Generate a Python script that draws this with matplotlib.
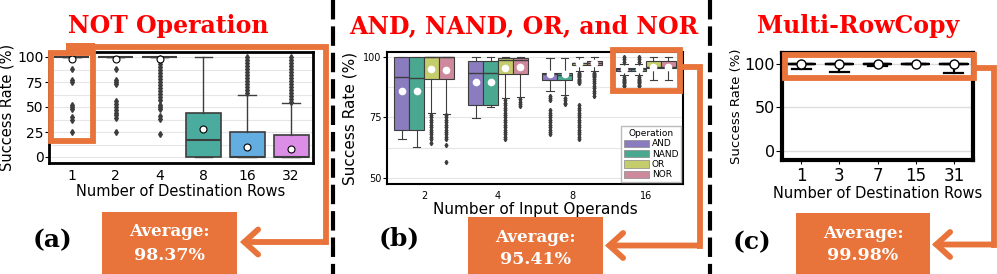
import numpy as np
import matplotlib.pyplot as plt
from matplotlib.patches import Rectangle, FancyArrowPatch, Patch

plt.rcParams['lines.scale_dashes'] = False

# ── data: (a) NOT operation ───────────────────────────────────────────────────
not_rows = ['1', '2', '4', '8', '16', '32']
not_q1 = [100, 100, 100, 0, 0, 0]
not_med = [100, 100, 100, 17, 0, 0]
not_q3 = [100, 100, 100, 44, 25, 22]
not_lo = [100, 100, 100, 0, 0, 0]
not_hi = [100, 100, 100, 100, 62, 54]
not_mean = [98.5, 98.4, 98.2, 28, 10, 8]
not_fliers = [
    [88, 77, 75, 52, 50, 48, 40, 37, 25],
    [88, 77, 75, 73, 56, 53, 50, 47, 44, 42, 39, 25],
    [99, 96, 93, 90, 87, 84, 81, 78, 75, 72, 69, 66, 63, 60, 57, 52, 50, 48, 41, 38, 23],
    [],
    [100, 97, 94, 91, 88, 85, 82, 79, 76, 73, 70, 67, 64],
    [100, 97, 94, 91, 88, 85, 82, 79, 76, 73, 70, 67, 64, 61, 58, 55],
]
not_colors = ['#8e7cc3', '#4aa58f', '#c5cb6e', '#4aab9f', '#64ade0', '#dc8ee6']

# ── data: (b) AND / NAND / OR / NOR  (rows = operation, cols = operands) ──────
operands = ['2', '4', '8', '16']
ops = ['AND', 'NAND', 'OR', 'NOR']
op_colors = ['#8b7cc0', '#4aa890', '#c4cc6c', '#cf899c']
logic_q1 = [[69.6, 80.0, 90.6, 94.3], [69.6, 80.0, 90.6, 94.3],
            [91.0, 93.0, 96.7, 95.5], [90.8, 93.0, 96.8, 95.5]]
logic_med = [[91.8, 93.4, 92.8, 94.8], [91.1, 93.4, 92.6, 94.8],
             [100, 98.5, 97.5, 96.0], [100, 98.5, 97.6, 96.0]]
logic_q3 = [[100, 98.2, 93.3, 95.3], [100, 98.2, 93.3, 95.3],
            [100, 99.5, 97.6, 98.1], [100, 99.5, 98.2, 98.2]]
logic_lo = [[66.0, 74.6, 85.9, 92.6], [62.9, 79.2, 84.2, 92.6],
            [76.9, 83.0, 94.2, 90.4], [76.6, 83.3, 94.2, 90.4]]
logic_hi = [[100, 100, 99.6, 97.0], [100, 100, 99.6, 97.0],
            [100, 100, 100, 100], [100, 100, 100, 100]]
logic_mean = [[86.1, 89.6, 92.8, 94.9], [85.7, 89.6, 92.8, 94.9],
              [95.0, 95.5, 97.3, 95.7], [94.5, 95.8, 97.3, 95.7]]
logic_fliers = [
    [[], [], [84, 83, 82, 78, 77, 76, 75, 74, 73, 72, 71, 70, 69, 68],
     [100, 99, 98, 91.5, 91, 90.5, 90, 89.5, 89, 88.5, 88]],
    [[], [], [83, 82, 81, 80.5],
     [100, 99, 98, 91.5, 91, 90.5, 90, 89.5, 89, 88.5, 88]],
    [[76, 75, 74, 73, 72, 71, 70, 69, 68, 67, 66, 64.5],
     [82, 81, 80, 79, 78, 77, 76, 75, 74, 73, 72, 71, 70, 69, 68, 67, 66],
     [93.5, 93, 92.5, 92, 91.5, 91, 90.5, 90, 89.5, 89, 80, 79, 78, 77, 76, 75,
      74, 73, 72, 71, 70, 69, 68, 67, 66],
     []],
    [[76, 75, 74, 73, 72, 71, 70, 69, 68, 67, 66, 63.5, 56.5],
     [82.5, 81.5, 80.5, 79.5],
     [93.5, 93, 92.5, 92, 91.5, 91, 90, 89, 88, 87, 86, 85, 84],
     []],
]

# ── data: (c) Multi-RowCopy ───────────────────────────────────────────────────
copy_rows = ['1', '3', '7', '15', '31']
copy_lo = [93.5, 90.5, 97.0, 100, 89.5]
copy_mean = [99.9, 99.9, 99.95, 100, 99.9]
panel_avg = ['98.37%', '95.41%', '99.98%']

ORANGE = '#e8743b'
EDGE = '#3d3d3d'
W, H = 997, 274


def px_axes(fig, left, top, right, bottom):
    return fig.add_axes([left / W, 1 - bottom / H, (right - left) / W, (bottom - top) / H])


def style_frame(ax, lw):
    for s in ax.spines.values():
        s.set_color('black')
        s.set_linewidth(lw)
    ax.set_axisbelow(True)


fig = plt.figure(figsize=(9.97, 2.74), dpi=100)

# ── (a) ───────────────────────────────────────────────────────────────────────
axa = px_axes(fig, 49, 52, 313, 163)
stats = [dict(q1=not_q1[i], med=not_med[i], q3=not_q3[i], whislo=not_lo[i],
              whishi=not_hi[i], mean=not_mean[i], fliers=not_fliers[i])
         for i in range(len(not_rows))]
bp = axa.bxp(stats, positions=range(len(not_rows)), widths=0.8, capwidths=0.4,
             patch_artist=True, showmeans=True,
             boxprops=dict(edgecolor=EDGE, linewidth=1.2),
             medianprops=dict(color=EDGE, linewidth=1.5),
             whiskerprops=dict(color=EDGE, linewidth=1),
             capprops=dict(color=EDGE, linewidth=1),
             flierprops=dict(marker='d', markersize=3, markerfacecolor=EDGE,
                             markeredgecolor=EDGE),
             meanprops=dict(marker='o', markersize=5, markerfacecolor='white',
                            markeredgecolor='black', markeredgewidth=0.8))
for patch, c in zip(bp['boxes'], not_colors):
    patch.set_facecolor(c)
axa.set_xlim(-0.52, 5.5)
axa.set_ylim(-6, 105)
axa.set_yticks([0, 25, 50, 75, 100])
axa.set_yticks([12.5, 37.5, 62.5, 87.5], minor=True)
axa.set_xticks(range(len(not_rows)), not_rows)
axa.grid(axis='y', which='both', color='#e6e6e6', linewidth=0.8)
axa.tick_params(axis='y', which='minor', length=0)
axa.tick_params(axis='x', length=0, labelsize=10, pad=4)
axa.tick_params(axis='y', length=3, labelsize=10, pad=1)
axa.set_xlabel('Number of Destination Rows', fontsize=10.5, labelpad=1)
axa.set_ylabel('Success Rate (%)', fontsize=10.5, labelpad=2)
style_frame(axa, 2)

# ── (b) ───────────────────────────────────────────────────────────────────────
axb = px_axes(fig, 387, 52, 683, 184)
offsets = [-0.3, -0.1, 0.1, 0.3]
for k, op in enumerate(ops):
    stats = [dict(q1=logic_q1[k][g], med=logic_med[k][g], q3=logic_q3[k][g],
                  whislo=logic_lo[k][g], whishi=logic_hi[k][g],
                  mean=logic_mean[k][g], fliers=logic_fliers[k][g])
             for g in range(len(operands))]
    pos = [g + offsets[k] for g in range(len(operands))]
    axb.bxp(stats, positions=pos, widths=0.2, capwidths=0.1,
            patch_artist=True, showmeans=True,
            boxprops=dict(facecolor=op_colors[k], edgecolor=EDGE, linewidth=0.8),
            medianprops=dict(color=EDGE, linewidth=1),
            whiskerprops=dict(color=EDGE, linewidth=0.8),
            capprops=dict(color=EDGE, linewidth=0.8),
            flierprops=dict(marker='d', markersize=2.2, markerfacecolor=EDGE,
                            markeredgecolor=EDGE),
            meanprops=dict(marker='o', markersize=4.5, markerfacecolor='white',
                           markeredgecolor='white'))
axb.set_xlim(-0.5, 3.5)
axb.set_ylim(47.5, 102)
axb.set_yticks([50, 75, 100])
axb.set_yticks([62.5, 87.5], minor=True)
axb.set_xticks(range(len(operands)), operands)
axb.grid(axis='y', which='both', color='#e6e6e6', linewidth=0.8)
axb.tick_params(axis='y', which='minor', length=0)
axb.tick_params(axis='x', length=0, labelsize=7, pad=5)
axb.tick_params(axis='y', length=3, labelsize=7, pad=1)
axb.set_xlabel('Number of Input Operands', fontsize=11, labelpad=1)
axb.set_ylabel('Success Rate (%)', fontsize=11, labelpad=4)
style_frame(axb, 1.5)
handles = [Patch(facecolor=c, edgecolor='#888888', linewidth=0.5) for c in op_colors]
leg = axb.legend(handles, ops, title='Operation', loc='lower right', fontsize=6.5,
                 title_fontsize=6.5, handlelength=2.8, handleheight=0.9,
                 labelspacing=0.15, handletextpad=0.3, borderpad=0.3,
                 borderaxespad=0.2, fancybox=False, framealpha=1)
leg.get_frame().set_edgecolor('#bbbbbb')

# ── (c) ───────────────────────────────────────────────────────────────────────
axc = px_axes(fig, 782, 53, 973, 160)
stats = [dict(q1=100, med=100, q3=100, whislo=copy_lo[i], whishi=100,
              mean=copy_mean[i], fliers=[]) for i in range(len(copy_rows))]
axc.bxp(stats, positions=range(len(copy_rows)), widths=0.72, capwidths=0.5,
        showmeans=True,
        boxprops=dict(color='black', linewidth=1.6),
        medianprops=dict(color='black', linewidth=1.6),
        whiskerprops=dict(color='black', linewidth=1.6),
        capprops=dict(color='black', linewidth=1.6),
        meanprops=dict(marker='o', markersize=6.5, markerfacecolor='white',
                       markeredgecolor='black', markeredgewidth=1))
axc.set_xlim(-0.5, 4.5)
axc.set_ylim(-10, 112)
axc.set_yticks([0, 50, 100])
axc.set_xticks(range(len(copy_rows)), copy_rows)
axc.grid(axis='y', color='#dddddd', linewidth=1)
axc.tick_params(axis='x', length=3, labelsize=12, pad=2)
axc.tick_params(axis='y', length=4, labelsize=11.5, pad=1)
axc.set_xlabel('Number of Destination Rows', fontsize=10.5, labelpad=1)
axc.set_ylabel('Success Rate (%)', fontsize=9.5, labelpad=1)
style_frame(axc, 3)

# ── overlay: titles, separators, highlight boxes, arrows ──────────────────────
ov = fig.add_axes([0, 0, 1, 1], zorder=10)
ov.set_xlim(0, W)
ov.set_ylim(H, 0)
ov.set_facecolor('none')
ov.axis('off')

title_kw = dict(color='#ff0000', fontsize=17, fontweight='bold', family='DejaVu Serif',
                ha='center', va='center')
ov.text(168, 26, 'NOT Operation', **title_kw)
ov.text(524, 26, 'AND, NAND, OR, and NOR', **title_kw)
ov.text(858, 26, 'Multi-RowCopy', **title_kw)

for x in [333, 710]:
    ov.plot([x, x], [0, H], color='black', linewidth=3, dashes=(14, 5))

lw = 4.2  # ~6 px
# highlight rectangles (x0, y0, x1, y1) in pixels
for x0, y0, x1, y1 in [(50.5, 52.5, 92.5, 141), (613, 50, 680, 91), (785, 55, 974, 78)]:
    ov.add_patch(Rectangle((x0, y0), x1 - x0, y1 - y0, fill=False,
                           edgecolor=ORANGE, linewidth=lw, joinstyle='miter'))

# connectors: polyline ending in an open arrow head
paths = [
    [(69, 47), (325.5, 47), (325.5, 242), (240, 242)],
    [(680, 67), (699.5, 67), (699.5, 245.5), (605, 245.5)],
    [(974, 68), (993.5, 68), (993.5, 244.5), (932, 244.5)],
]
for pts in paths:
    xs, ys = zip(*pts[:-1])
    ov.plot(xs, ys, color=ORANGE, linewidth=lw, solid_joinstyle='miter',
            solid_capstyle='projecting')
    ov.add_patch(FancyArrowPatch(pts[-2], pts[-1], arrowstyle='->,head_length=1.1,head_width=1.0',
                                 color=ORANGE, linewidth=lw, mutation_scale=9,
                                 shrinkA=0, shrinkB=0, joinstyle='miter'))
ov.add_patch(Rectangle((66, 43), 29, 9, facecolor=ORANGE, edgecolor='none'))

# average boxes
for (x0, y0, x1, y1), avg in zip([(102, 212, 237, 274), (468, 217, 603, 274),
                                  (796, 213, 930, 274)], panel_avg):
    ov.add_patch(Rectangle((x0, y0), x1 - x0, y1 - y0, facecolor=ORANGE, edgecolor='none'))
    cx = (x0 + x1) / 2
    ov.text(cx, y0 + 20, 'Average:', color='white', fontsize=12, fontweight='bold',
            family='DejaVu Serif', ha='center', va='center')
    ov.text(cx, y0 + 43, avg, color='white', fontsize=12.5, fontweight='bold',
            family='DejaVu Serif', ha='center', va='center')

for x, y, s in [(52, 240, '(a)'), (399, 238, '(b)'), (752, 242, '(c)')]:
    ov.text(x, y, s, color='black', fontsize=18, fontweight='bold', family='DejaVu Serif',
            ha='center', va='center')

fig.savefig('out.png', dpi=100)
